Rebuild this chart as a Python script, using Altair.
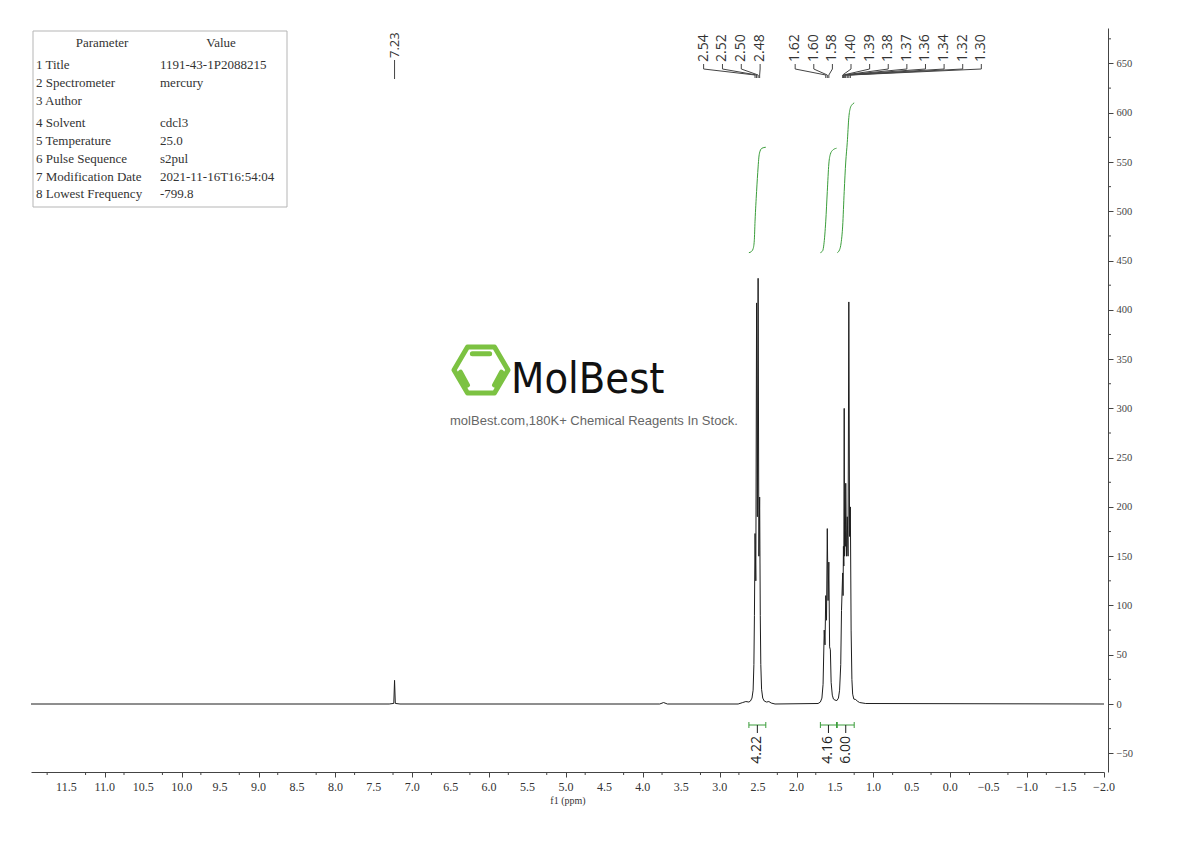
import altair as alt
import pandas as pd

# ---------------------------------------------------------------- data
# 1H spectrum trace: vertex shifts (ppm) and intensities
trace_ppm = [11.96, 7.30, 7.24, 7.23, 7.22, 7.16, 3.78, 3.73, 3.68,
             2.76, 2.70, 2.66, 2.62, 2.60, 2.58, 2.565, 2.555, 2.548,
             2.54, 2.53, 2.52, 2.51, 2.50, 2.49, 2.48,
             2.472, 2.465, 2.455, 2.44, 2.42, 2.39, 2.36, 2.33, 2.28,
             1.72, 1.69, 1.67, 1.655, 1.64, 1.63, 1.62, 1.61, 1.60, 1.59,
             1.58, 1.57, 1.56, 1.55, 1.535, 1.52, 1.50, 1.475,
             1.455, 1.44, 1.425, 1.415, 1.40, 1.395, 1.39, 1.385, 1.38,
             1.375, 1.37, 1.365, 1.36, 1.35, 1.34, 1.33, 1.32, 1.31, 1.30,
             1.29, 1.28, 1.27, 1.255, 1.23, 1.21, 1.18, 1.10, -2.0]
trace_int = [0, 0, 0.6, 24, 0.6, 0, 0, 1.5, 0,
             0, 1.5, 2.5, 2, 3, 6, 14, 40, 90,
             173, 125, 407, 190, 432, 150, 210,
             90, 40, 15, 6, 3, 2, 2.5, 1, 0,
             0.5, 2, 6, 20, 75, 60, 110, 85, 178, 105,
             144, 58, 55, 22, 9, 5, 4, 3.5,
             6, 14, 40, 95, 133, 110, 160, 140, 300,
             150, 175, 160, 224, 150, 190, 150, 408, 170, 200,
             75, 25, 10, 5, 4.5, 3, 1.5, 0.5, 0]

# peak picking
solvent_peak = [7.23]
multiplet_a = [2.54, 2.52, 2.50, 2.48]
multiplet_b = [1.62, 1.60, 1.58, 1.40, 1.39, 1.38, 1.37, 1.36, 1.34, 1.32, 1.30]

# integrations: ranges (ppm) and values
integral_start = [2.62, 1.69, 1.47]
integral_end = [2.40, 1.48, 1.25]
integral_value = [4.22, 4.16, 6.00]

# integral curves (ppm, running integral on the display scale)
curve_a_ppm = [2.62, 2.59, 2.565, 2.55, 2.54, 2.52, 2.50, 2.49, 2.475, 2.45, 2.40]
curve_a_val = [458, 459, 462, 470, 490, 520, 545, 555, 561, 564, 565]
curve_b_ppm = [1.69, 1.66, 1.645, 1.62, 1.60, 1.58, 1.56, 1.53, 1.48]
curve_b_val = [458, 460, 466, 490, 520, 548, 558, 562, 564]
curve_c_ppm = [1.47, 1.44, 1.42, 1.40, 1.38, 1.36, 1.34, 1.32, 1.30, 1.28, 1.25]
curve_c_val = [458, 461, 468, 485, 520, 550, 570, 595, 605, 608, 610]

# acquisition parameters
param_names = ["1 Title", "2 Spectrometer", "3 Author", "4 Solvent",
               "5 Temperature", "6 Pulse Sequence", "7 Modification Date",
               "8 Lowest Frequency"]
param_values = ["1191-43-1P2088215", "mercury", "", "cdcl3", "25.0",
                "s2pul", "2021-11-16T16:54:04", "-799.8"]

# ---------------------------------------------------------------- style
W, H = 1073, 744
Y_AXIS_OFFSET = 4
GREEN = "#3a9d3a"
INK = "#1e1e1e"
AXIS_INK = "#444"
SERIF = "Liberation Serif"
SANS = "Open Sans"

x_scale = alt.Scale(domain=[-2.0, 11.96], reverse=True, nice=False, zero=False)
y_scale = alt.Scale(domain=[-69, 686], nice=False, zero=False)

x_major = [round(-2.0 + 0.5 * i, 2) for i in range(28)]           # -2.0 .. 11.5
x_minor = [round(-1.75 + 0.5 * i, 2) for i in range(28)]          # -1.75 .. 11.75
y_major = list(range(-50, 651, 50))
y_minor = list(range(-25, 676, 50))

x_axis = alt.Axis(
    values=x_major, labels=False, title="f1 (ppm)", titleFont=SERIF,
    titleFontSize=10, titleFontWeight="normal", titleColor="#333", titlePadding=18,
    tickSize=5, tickColor=AXIS_INK, domainColor=AXIS_INK, grid=False,
)
y_axis = alt.Axis(
    orient="right", values=y_major, offset=Y_AXIS_OFFSET, title=None,
    labelFont=SERIF, labelFontSize=10.5, labelColor=AXIS_INK, labelPadding=3,
    labelFlush=False, labelOverlap=False, tickSize=5,
    tickColor=AXIS_INK, domainColor=AXIS_INK, grid=False,
)

one = pd.DataFrame({"k": [0]})

# ---------------------------------------------------------------- spectrum
trace_df = pd.DataFrame({"ppm": trace_ppm, "intensity": trace_int})
spectrum = alt.Chart(trace_df).mark_line(color=INK, strokeWidth=1, clip=True).encode(
    x=alt.X("ppm:Q", scale=x_scale, axis=x_axis),
    y=alt.Y("intensity:Q", scale=y_scale, axis=y_axis),
)

# ppm tick labels and minor ticks
x_label_df = pd.DataFrame({
    "ppm": x_major,
    "txt": [f"{v:.1f}".replace("-", "\u2212") for v in x_major],
})
x_labels = alt.Chart(x_label_df).mark_text(
    font=SERIF, fontSize=12, color="#333", align="center", baseline="middle"
).encode(x="ppm:Q", y=alt.value(H + 15), text="txt:N")
x_minor_ticks = alt.Chart(pd.DataFrame({"ppm": x_minor})).mark_rule(
    color=AXIS_INK, strokeWidth=1).encode(
    x="ppm:Q", y=alt.value(H), y2=alt.value(H + 3))
y_minor_ticks = alt.Chart(pd.DataFrame({"intensity": y_minor})).mark_rule(
    color=AXIS_INK, strokeWidth=1).encode(
    y="intensity:Q", x=alt.value(W + Y_AXIS_OFFSET), x2=alt.value(W + Y_AXIS_OFFSET + 3))

# ---------------------------------------------------------------- integrals
curves = pd.concat([
    pd.DataFrame({"ppm": curve_a_ppm, "val": curve_a_val, "curve": "a"}),
    pd.DataFrame({"ppm": curve_b_ppm, "val": curve_b_val, "curve": "b"}),
    pd.DataFrame({"ppm": curve_c_ppm, "val": curve_c_val, "curve": "c"}),
])
integral_lines = alt.Chart(curves).mark_line(
    color=GREEN, strokeWidth=1, interpolate="monotone"
).encode(x="ppm:Q", y="val:Q", detail="curve:N")

integ_df = pd.DataFrame({
    "start": integral_start, "end": integral_end, "v": integral_value,
    "label": [f"{v:.2f}" for v in integral_value],
})
integ_df["mid"] = (integ_df["start"] + integ_df["end"]) / 2

bracket = alt.Chart(integ_df).mark_rule(color=GREEN, strokeWidth=1).encode(
    x="start:Q", x2="end:Q", y=alt.value(697))
cap_l = alt.Chart(integ_df).mark_rule(color=GREEN, strokeWidth=1).encode(
    x="start:Q", y=alt.value(694), y2=alt.value(700))
cap_r = alt.Chart(integ_df).mark_rule(color=GREEN, strokeWidth=1).encode(
    x="end:Q", y=alt.value(694), y2=alt.value(700))
stem = alt.Chart(integ_df).mark_rule(color=INK, strokeWidth=1).encode(
    x="mid:Q", y=alt.value(697), y2=alt.value(705))
integ_text = alt.Chart(integ_df).mark_text(
    angle=270, align="right", baseline="middle", font=SANS, fontSize=14, color="#222"
).encode(x="mid:Q", y=alt.value(708), text="label:N")

# ---------------------------------------------------------------- peak labels
slots_a = [2.474 + (len(multiplet_a) - 1 - i) * 0.245 for i in range(len(multiplet_a))]
slots_b = [2.018 - i * 0.2422 for i in range(len(multiplet_b))]
peaks_df = pd.DataFrame({
    "value": multiplet_a + multiplet_b,
    "slot": slots_a + slots_b,
})
peaks_df["label"] = [f"{v:.2f}" for v in peaks_df["value"]]

peak_text = alt.Chart(peaks_df).mark_text(
    angle=270, align="left", baseline="middle", font=SANS, fontSize=14, color="#333"
).encode(x="slot:Q", y=alt.value(34), text="label:N")
leg1 = alt.Chart(peaks_df).mark_rule(color="#444", strokeWidth=1).encode(
    x="slot:Q", y=alt.value(36), y2=alt.value(41))
leg2 = alt.Chart(peaks_df).mark_rule(color="#444", strokeWidth=1).encode(
    x="slot:Q", x2="value:Q", y=alt.value(41), y2=alt.value(47))
leg3 = alt.Chart(peaks_df).mark_rule(color="#444", strokeWidth=1).encode(
    x="value:Q", y=alt.value(47), y2=alt.value(50))

solv_df = pd.DataFrame({"value": solvent_peak,
                        "label": [f"{v:.2f}" for v in solvent_peak]})
solv_text = alt.Chart(solv_df).mark_text(
    angle=270, align="left", baseline="middle", font=SANS, fontSize=13, color="#333"
).encode(x="value:Q", y=alt.value(30), text="label:N")
solv_leg = alt.Chart(solv_df).mark_rule(color="#444", strokeWidth=1).encode(
    x="value:Q", y=alt.value(32), y2=alt.value(51))

# ---------------------------------------------------------------- parameter table
table_layers = [
    alt.Chart(one).mark_rect(filled=False, stroke="#b5b5b5", strokeWidth=1).encode(
        x=alt.value(2), x2=alt.value(256), y=alt.value(3), y2=alt.value(179)),
    alt.Chart(one).mark_text(text="Parameter", font=SERIF, fontSize=13,
                             color="#333", align="center", baseline="middle").encode(
        x=alt.value(71), y=alt.value(15)),
    alt.Chart(one).mark_text(text="Value", font=SERIF, fontSize=13,
                             color="#333", align="center", baseline="middle").encode(
        x=alt.value(190), y=alt.value(15)),
]
row_y = [37, 55, 73, 95, 113, 131, 149, 166]
for name, val, ry in zip(param_names, param_values, row_y):
    table_layers.append(
        alt.Chart(one).mark_text(text=name, font=SERIF, fontSize=13, color="#333",
                                 align="left", baseline="middle").encode(
            x=alt.value(5), y=alt.value(ry)))
    if val:
        table_layers.append(
            alt.Chart(one).mark_text(text=val, font=SERIF, fontSize=13, color="#333",
                                     align="left", baseline="middle").encode(
                x=alt.value(129), y=alt.value(ry)))

# ---------------------------------------------------------------- brand mark
HEX = ("M -1 0 L -0.5 -0.85 L 0.5 -0.85 L 1 0 L 0.5 0.85 L -0.5 0.85 Z "
       "M -0.32 -0.6 L 0.32 -0.6 "
       "M -0.76 0.08 L -0.5 0.56 "
       "M 0.76 0.08 L 0.5 0.56")
logo = alt.Chart(one).mark_point(
    shape=HEX, size=54 * 54, filled=False, stroke="#7cc242", strokeWidth=5,
    strokeJoin="round", strokeCap="round", opacity=1
).encode(x=alt.value(450), y=alt.value(342))
brand = alt.Chart(one).mark_text(
    text="MolBest", font="DejaVu Sans Condensed, Liberation Sans Narrow, sans-serif",
    fontSize=43, align="left", baseline="alphabetic", color="#111"
).encode(x=alt.value(480), y=alt.value(365))
tagline = alt.Chart(one).mark_text(
    text="molBest.com,180K+ Chemical Reagents In Stock.", font="Liberation Sans",
    fontSize=13, align="center", baseline="middle", color="#666"
).encode(x=alt.value(563), y=alt.value(393))

chart = alt.layer(
    spectrum, x_labels, x_minor_ticks, y_minor_ticks,
    integral_lines, bracket, cap_l, cap_r, stem, integ_text,
    peak_text, leg1, leg2, leg3, solv_text, solv_leg,
    *table_layers, logo, brand, tagline,
).properties(
    width=W, height=H,
    padding={"left": 31, "top": 28, "right": 5, "bottom": 5},
).configure_view(stroke=None)

chart.save("out.html", embed_options={"renderer": "svg", "actions": False})
